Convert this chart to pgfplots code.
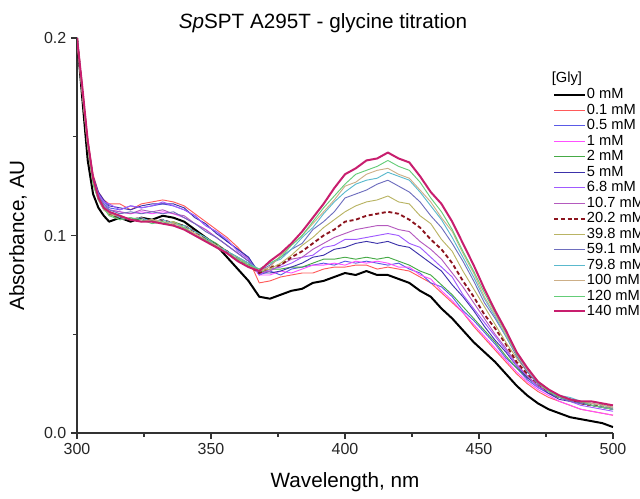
\documentclass[border=0pt]{standalone}
\usepackage{pgfplots}
\pgfplotsset{compat=1.18}
\usepackage{pgfplotstable}
\usepackage{fontspec}
\setmainfont{Liberation Sans}
\definecolor{glyA}{RGB}{0,0,0}
\definecolor{glyB}{RGB}{255,90,90}
\definecolor{glyC}{RGB}{90,90,230}
\definecolor{glyD}{RGB}{255,80,255}
\definecolor{glyE}{RGB}{70,170,70}
\definecolor{glyF}{RGB}{60,50,170}
\definecolor{glyG}{RGB}{160,90,255}
\definecolor{glyH}{RGB}{180,90,190}
\definecolor{glyI}{RGB}{140,20,30}
\definecolor{glyJ}{RGB}{185,180,100}
\definecolor{glyK}{RGB}{110,110,190}
\definecolor{glyL}{RGB}{90,185,205}
\definecolor{glyM}{RGB}{205,175,135}
\definecolor{glyN}{RGB}{100,205,120}
\definecolor{glyO}{RGB}{200,30,110}
\pgfplotstableread{
x a b c d e f g h i j k l m n o
300 0.200 0.199 0.200 0.200 0.199 0.200 0.200 0.199 0.200 0.199 0.200 0.200 0.200 0.200 0.200
302 0.169 0.174 0.172 0.173 0.172 0.174 0.173 0.172 0.173 0.172 0.174 0.173 0.172 0.173 0.175
304 0.138 0.149 0.147 0.146 0.145 0.148 0.148 0.146 0.146 0.145 0.147 0.146 0.145 0.146 0.148
306 0.121 0.131 0.129 0.128 0.127 0.130 0.129 0.128 0.127 0.126 0.129 0.127 0.127 0.126 0.129
308 0.114 0.122 0.121 0.120 0.118 0.122 0.121 0.120 0.119 0.118 0.120 0.119 0.118 0.118 0.119
310 0.110 0.118 0.117 0.116 0.113 0.118 0.117 0.115 0.114 0.114 0.116 0.115 0.113 0.114 0.114
312 0.107 0.116 0.114 0.113 0.111 0.115 0.116 0.113 0.111 0.110 0.113 0.112 0.111 0.110 0.112
316 0.109 0.116 0.113 0.112 0.108 0.114 0.113 0.112 0.109 0.110 0.111 0.109 0.110 0.108 0.110
320 0.107 0.113 0.115 0.111 0.109 0.113 0.115 0.111 0.108 0.108 0.112 0.108 0.108 0.109 0.108
324 0.109 0.116 0.114 0.112 0.107 0.115 0.114 0.113 0.109 0.107 0.111 0.109 0.107 0.108 0.107
328 0.108 0.117 0.115 0.111 0.108 0.116 0.115 0.112 0.107 0.108 0.112 0.107 0.108 0.106 0.107
332 0.110 0.118 0.116 0.112 0.106 0.116 0.117 0.113 0.108 0.106 0.111 0.108 0.107 0.107 0.106
336 0.109 0.117 0.115 0.111 0.107 0.116 0.115 0.111 0.106 0.107 0.112 0.106 0.106 0.105 0.105
340 0.107 0.115 0.113 0.109 0.105 0.114 0.113 0.110 0.105 0.104 0.109 0.105 0.104 0.104 0.103
344 0.103 0.111 0.110 0.106 0.102 0.109 0.110 0.106 0.102 0.101 0.106 0.102 0.101 0.100 0.100
348 0.099 0.107 0.105 0.103 0.099 0.106 0.105 0.103 0.098 0.098 0.102 0.099 0.098 0.098 0.097
352 0.095 0.103 0.102 0.099 0.096 0.101 0.102 0.099 0.095 0.094 0.099 0.095 0.095 0.094 0.094
356 0.089 0.099 0.097 0.095 0.092 0.097 0.098 0.095 0.092 0.091 0.095 0.092 0.091 0.091 0.091
360 0.083 0.094 0.093 0.091 0.089 0.093 0.092 0.091 0.088 0.089 0.091 0.089 0.088 0.088 0.087
364 0.077 0.088 0.089 0.087 0.086 0.089 0.088 0.087 0.085 0.085 0.087 0.086 0.085 0.085 0.084
368 0.069 0.076 0.080 0.080 0.081 0.081 0.080 0.081 0.081 0.082 0.082 0.083 0.082 0.083 0.082
372 0.068 0.077 0.082 0.080 0.083 0.081 0.083 0.082 0.084 0.083 0.085 0.086 0.084 0.086 0.087
376 0.070 0.079 0.080 0.082 0.083 0.082 0.084 0.085 0.085 0.086 0.089 0.088 0.090 0.089 0.091
380 0.072 0.080 0.083 0.081 0.084 0.084 0.086 0.088 0.089 0.090 0.093 0.093 0.095 0.095 0.096
384 0.073 0.081 0.084 0.083 0.084 0.086 0.089 0.089 0.092 0.095 0.096 0.099 0.100 0.100 0.102
388 0.076 0.081 0.085 0.085 0.086 0.089 0.090 0.093 0.096 0.099 0.103 0.104 0.106 0.107 0.109
392 0.077 0.083 0.086 0.085 0.088 0.090 0.094 0.096 0.100 0.104 0.107 0.111 0.112 0.114 0.116
396 0.079 0.084 0.085 0.086 0.088 0.093 0.095 0.099 0.103 0.108 0.112 0.117 0.118 0.120 0.124
400 0.081 0.084 0.087 0.085 0.089 0.094 0.098 0.101 0.107 0.112 0.119 0.122 0.125 0.126 0.131
404 0.080 0.085 0.086 0.087 0.088 0.096 0.098 0.103 0.108 0.115 0.121 0.126 0.127 0.131 0.134
408 0.082 0.085 0.087 0.086 0.089 0.097 0.099 0.104 0.110 0.117 0.123 0.128 0.131 0.133 0.138
412 0.080 0.083 0.086 0.087 0.088 0.096 0.100 0.105 0.111 0.118 0.126 0.129 0.133 0.135 0.139
416 0.080 0.084 0.085 0.086 0.089 0.097 0.101 0.105 0.112 0.120 0.128 0.132 0.134 0.138 0.142
420 0.078 0.083 0.086 0.084 0.087 0.095 0.100 0.103 0.111 0.117 0.125 0.130 0.131 0.135 0.139
424 0.076 0.082 0.083 0.084 0.085 0.094 0.096 0.102 0.108 0.116 0.122 0.128 0.129 0.133 0.137
428 0.072 0.079 0.081 0.080 0.082 0.090 0.094 0.097 0.104 0.110 0.117 0.122 0.123 0.127 0.130
432 0.069 0.076 0.076 0.078 0.080 0.086 0.089 0.093 0.098 0.106 0.110 0.115 0.117 0.119 0.122
436 0.063 0.071 0.074 0.072 0.075 0.082 0.084 0.088 0.093 0.098 0.104 0.108 0.109 0.112 0.116
440 0.058 0.066 0.069 0.067 0.070 0.075 0.079 0.081 0.086 0.092 0.096 0.099 0.102 0.103 0.107
444 0.052 0.061 0.062 0.061 0.064 0.069 0.070 0.074 0.077 0.082 0.087 0.089 0.091 0.092 0.096
448 0.046 0.054 0.057 0.055 0.058 0.062 0.063 0.066 0.069 0.073 0.077 0.079 0.081 0.082 0.085
452 0.041 0.048 0.051 0.049 0.052 0.054 0.056 0.058 0.060 0.064 0.066 0.068 0.069 0.071 0.073
456 0.036 0.042 0.045 0.043 0.046 0.047 0.049 0.050 0.053 0.055 0.058 0.059 0.060 0.061 0.062
460 0.030 0.036 0.038 0.037 0.039 0.041 0.042 0.043 0.045 0.046 0.049 0.049 0.050 0.051 0.052
464 0.024 0.030 0.033 0.031 0.033 0.034 0.034 0.035 0.036 0.038 0.039 0.040 0.040 0.040 0.041
468 0.019 0.025 0.027 0.026 0.028 0.028 0.029 0.029 0.030 0.031 0.031 0.032 0.032 0.033 0.033
472 0.015 0.021 0.023 0.022 0.024 0.024 0.023 0.024 0.025 0.025 0.025 0.026 0.026 0.026 0.026
476 0.012 0.018 0.020 0.019 0.021 0.020 0.021 0.021 0.021 0.021 0.022 0.021 0.022 0.021 0.022
480 0.010 0.016 0.018 0.016 0.019 0.017 0.018 0.019 0.018 0.019 0.018 0.019 0.019 0.018 0.019
484 0.008 0.014 0.016 0.014 0.017 0.016 0.016 0.016 0.017 0.017 0.016 0.018 0.017 0.017 0.017
488 0.007 0.012 0.015 0.012 0.015 0.015 0.014 0.016 0.015 0.016 0.015 0.016 0.016 0.016 0.016
492 0.006 0.011 0.014 0.011 0.014 0.014 0.013 0.014 0.014 0.015 0.014 0.015 0.015 0.014 0.016
496 0.005 0.010 0.013 0.010 0.013 0.013 0.012 0.013 0.014 0.014 0.013 0.014 0.014 0.013 0.015
500 0.003 0.009 0.012 0.009 0.012 0.012 0.011 0.012 0.013 0.013 0.012 0.013 0.013 0.012 0.014
}\data
\begin{document}
\begin{tikzpicture}
\begin{axis}[
  scale only axis, width=402pt, height=296.25pt,
  xmin=300, xmax=500, ymin=0, ymax=0.2,
  axis lines*=left,
  axis line style={line width=1pt, color=black!80},
  tick align=outside,
  xtick={300,350,400,450,500}, ytick={0,0.1,0.2},
  minor tick num=1,
  major tick length=4.5pt, minor tick length=3pt,
  tick style={line width=0.8pt, color=black!80},
  /pgf/number format/assume math mode=true,
  yticklabel style={/pgf/number format/.cd,fixed,fixed zerofill,precision=1},
  scaled y ticks=false,
  ticklabel style={font=\fontsize{12}{14}\selectfont, text=black!85},
  xlabel={Wavelength, nm}, ylabel={Absorbance, AU},
  label style={font=\fontsize{15.5}{18}\selectfont},
  xlabel style={at={(axis description cs:0.5,-0.124)}, anchor=center},
  ylabel style={at={(axis description cs:-0.11,0.5)}, anchor=center},
  title={\textit{Sp}SPT A295T - glycine titration},
  title style={at={(axis description cs:0.459,1.0405)}, anchor=center, yshift=-7pt, font=\fontsize{15.5}{18}\selectfont},
  legend style={at={(rel axis cs:0.8806,0.8835)}, anchor=north west, draw=none, fill=none,
    font=\fontsize{11}{13}\selectfont, row sep=-0.4pt,
    nodes={inner sep=1pt, text height=8pt, text depth=2pt}},
  legend cell align=left,
  legend image code/.code={\draw[#1] (0cm,0cm) -- (0.8cm,0cm);},
  no markers,
  every axis plot/.append style={line width=0.7pt, line join=round},
]
\addplot[glyA, line width=1.5pt] table[x=x,y=a]{\data}; \addlegendentry{0 mM}
\addplot[glyB] table[x=x,y=b]{\data}; \addlegendentry{0.1 mM}
\addplot[glyC] table[x=x,y=c]{\data}; \addlegendentry{0.5 mM}
\addplot[glyD] table[x=x,y=d]{\data}; \addlegendentry{1 mM}
\addplot[glyE] table[x=x,y=e]{\data}; \addlegendentry{2 mM}
\addplot[glyF] table[x=x,y=f]{\data}; \addlegendentry{5 mM}
\addplot[glyG] table[x=x,y=g]{\data}; \addlegendentry{6.8 mM}
\addplot[glyH] table[x=x,y=h]{\data}; \addlegendentry{10.7 mM}
\addplot[glyI, line width=1.4pt, dash pattern=on 3pt off 2pt] table[x=x,y=i]{\data}; \addlegendentry{20.2 mM}
\addplot[glyJ] table[x=x,y=j]{\data}; \addlegendentry{39.8 mM}
\addplot[glyK] table[x=x,y=k]{\data}; \addlegendentry{59.1 mM}
\addplot[glyL] table[x=x,y=l]{\data}; \addlegendentry{79.8 mM}
\addplot[glyM] table[x=x,y=m]{\data}; \addlegendentry{100 mM}
\addplot[glyN] table[x=x,y=n]{\data}; \addlegendentry{120 mM}
\addplot[glyO, line width=1.5pt] table[x=x,y=o]{\data}; \addlegendentry{140 mM}
\node[font=\fontsize{11}{13}\selectfont] at (rel axis cs:0.914,0.896) {[Gly]};
\coordinate (bbSW) at (rel axis cs:-0.14366,-0.16709);
\coordinate (bbNE) at (rel axis cs:1.05037,1.09620);
\end{axis}
\pgfresetboundingbox
\path[use as bounding box] (bbSW) rectangle (bbNE);
\end{tikzpicture}
\end{document}
